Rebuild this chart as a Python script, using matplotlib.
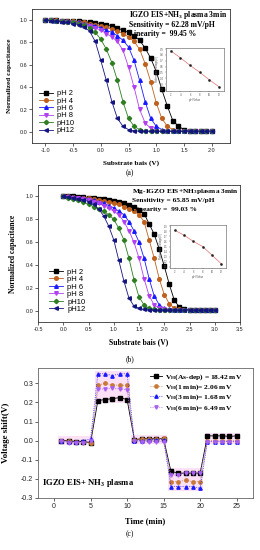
import numpy as np
import matplotlib
matplotlib.use("Agg")
import matplotlib.pyplot as plt

# ---------------- data ----------------
bias_a = np.round(np.arange(-1.0, 2.001, 0.1), 2)
bias_b = np.round(np.arange(0.0, 3.001, 0.1), 2)
ph_labels = ["pH 2", "pH 4", "pH 6", "pH 8", "pH10", "pH12"]

cap_a_ph2 = [1.00, 1.00, 1.00, 0.995, 0.995, 0.99, 0.99, 0.985, 0.98, 0.975, 0.97, 0.96, 0.95, 0.93, 0.91, 0.89,
             0.86, 0.82, 0.75, 0.66, 0.54, 0.38, 0.23, 0.10, 0.05, 0.02, 0.01, 0.005, 0.005, 0.005, 0.005]
cap_a_ph4 = [1.00, 1.00, 1.00, 0.995, 0.99, 0.99, 0.985, 0.98, 0.97, 0.96, 0.95, 0.935, 0.92, 0.90, 0.88, 0.85,
             0.81, 0.74, 0.61, 0.45, 0.26, 0.12, 0.05, 0.02, 0.01, 0.005, 0.005, 0.005, 0.005, 0.005, 0.005]
cap_a_ph6 = [1.00, 1.00, 0.995, 0.99, 0.99, 0.985, 0.98, 0.97, 0.96, 0.95, 0.93, 0.91, 0.89, 0.86, 0.82, 0.76,
             0.64, 0.46, 0.27, 0.12, 0.05, 0.02, 0.01, 0.005, 0.005, 0.005, 0.005, 0.005, 0.005, 0.005, 0.005]
cap_a_ph8 = [1.00, 1.00, 0.995, 0.99, 0.985, 0.98, 0.97, 0.96, 0.95, 0.93, 0.91, 0.88, 0.85, 0.81, 0.73, 0.58,
             0.40, 0.20, 0.08, 0.03, 0.01, 0.005, 0.005, 0.005, 0.005, 0.005, 0.005, 0.005, 0.005, 0.005, 0.005]
cap_a_ph10 = [1.00, 1.00, 0.995, 0.99, 0.985, 0.98, 0.97, 0.955, 0.93, 0.89, 0.83, 0.74, 0.62, 0.46, 0.27, 0.12,
              0.05, 0.02, 0.01, 0.005, 0.005, 0.005, 0.005, 0.005, 0.005, 0.005, 0.005, 0.005, 0.005, 0.005, 0.005]
cap_a_ph12 = [1.00, 0.995, 0.99, 0.985, 0.98, 0.97, 0.96, 0.94, 0.90, 0.81, 0.64, 0.46, 0.27, 0.12, 0.05, 0.02,
              0.01, 0.005, 0.005, 0.005, 0.005, 0.005, 0.005, 0.005, 0.005, 0.005, 0.005, 0.005, 0.005, 0.005, 0.005]

cap_b_ph2 = [1.00, 1.00, 1.00, 0.995, 0.995, 0.99, 0.985, 0.98, 0.975, 0.97, 0.96, 0.95, 0.94, 0.925, 0.91, 0.88,
             0.85, 0.76, 0.67, 0.54, 0.39, 0.23, 0.09, 0.03, 0.01, 0.005, 0.005, 0.005, 0.005, 0.005, 0.005]
cap_b_ph4 = [1.00, 1.00, 0.995, 0.99, 0.99, 0.985, 0.98, 0.97, 0.96, 0.95, 0.94, 0.93, 0.91, 0.89, 0.87, 0.84,
             0.78, 0.62, 0.46, 0.28, 0.14, 0.06, 0.02, 0.01, 0.005, 0.005, 0.005, 0.005, 0.005, 0.005, 0.005]
cap_b_ph6 = [1.00, 1.00, 0.995, 0.99, 0.985, 0.975, 0.965, 0.95, 0.94, 0.92, 0.90, 0.87, 0.84, 0.78, 0.70, 0.60,
             0.46, 0.28, 0.13, 0.05, 0.02, 0.01, 0.005, 0.005, 0.005, 0.005, 0.005, 0.005, 0.005, 0.005, 0.005]
cap_b_ph8 = [1.00, 0.995, 0.99, 0.985, 0.975, 0.965, 0.955, 0.94, 0.92, 0.90, 0.87, 0.84, 0.78, 0.70, 0.60, 0.46,
             0.28, 0.13, 0.05, 0.02, 0.01, 0.005, 0.005, 0.005, 0.005, 0.005, 0.005, 0.005, 0.005, 0.005, 0.005]
cap_b_ph10 = [1.00, 0.99, 0.98, 0.965, 0.95, 0.93, 0.91, 0.89, 0.87, 0.84, 0.80, 0.72, 0.62, 0.46, 0.27, 0.12,
              0.05, 0.02, 0.01, 0.005, 0.005, 0.005, 0.005, 0.005, 0.005, 0.005, 0.005, 0.005, 0.005, 0.005, 0.005]
cap_b_ph12 = [1.00, 0.995, 0.99, 0.98, 0.97, 0.955, 0.93, 0.89, 0.83, 0.74, 0.62, 0.44, 0.26, 0.11, 0.04, 0.02,
              0.01, 0.005, 0.005, 0.005, 0.005, 0.005, 0.005, 0.005, 0.005, 0.005, 0.005, 0.005, 0.005, 0.005, 0.005]

inset_ph = [2, 4, 6, 8, 10, 12]
inset_a_vref = [0.87, 0.75, 0.62, 0.50, 0.37, 0.25]
inset_b_vref = [1.82, 1.72, 1.60, 1.50, 1.33, 1.16]

time_min = list(range(1, 26))
shift_asdep = [0.0, 0.0, -0.005, -0.005, -0.01, 0.21, 0.215, 0.22, 0.225, 0.215, 0.005, 0.01, 0.01, 0.01, 0.01,
               -0.16, -0.17, -0.17, -0.17, -0.17, 0.025, 0.025, 0.025, 0.022, 0.025]
shift_1min = [0.0, 0.0, -0.005, -0.005, -0.01, 0.29, 0.30, 0.29, 0.29, 0.29, 0.005, 0.01, 0.01, 0.01, 0.012,
              -0.215, -0.215, -0.205, -0.215, -0.215, 0.0, 0.0, 0.0, 0.0, 0.0]
shift_3min = [0.0, -0.005, -0.005, 0.0, 0.01, 0.35, 0.35, 0.34, 0.35, 0.35, 0.0, 0.0, 0.005, 0.005, 0.005,
              -0.24, -0.24, -0.24, -0.24, -0.25, -0.005, -0.005, -0.005, -0.005, -0.005]
shift_6min = [0.0, -0.01, -0.01, -0.01, 0.0, 0.27, 0.27, 0.275, 0.27, 0.265, 0.0, -0.005, -0.005, -0.005, -0.005,
              -0.18, -0.18, -0.17, -0.17, -0.17, -0.005, -0.005, -0.005, -0.005, -0.005]
shift_labels = [r"V$_{\mathregular{H}}$(As-dep) = 18.42 mV", r"V$_{\mathregular{H}}$(1 min)= 2.06 mV",
                r"V$_{\mathregular{H}}$(3 min)= 1.68 mV", r"V$_{\mathregular{H}}$(6 min)= 6.49 mV"]

# ---------------- style ----------------
SERIF = ["Liberation Serif", "DejaVu Serif"]
SANS = ["Liberation Sans", "DejaVu Sans"]
plt.rcParams["font.family"] = SANS
plt.rcParams["mathtext.fontset"] = "custom"
plt.rcParams["mathtext.rm"] = "Liberation Serif:bold"
plt.rcParams["mathtext.it"] = "Liberation Serif:bold"
plt.rcParams["mathtext.bf"] = "Liberation Serif:bold"

ph_colors = ["#000000", "#c0601c", "#1a1aff", "#b040f0", "#2e7d20", "#141480"]
ph_markers = ["s", "o", "^", "v", "D", "<"]
SPINE = "#333333"

fig = plt.figure(figsize=(2.6, 5.5), dpi=100)
W, H = 260.0, 550.0


def rect_px(x0, y0, x1, y1):
    return [x0 / W, 1 - y1 / H, (x1 - x0) / W, (y1 - y0) / H]


def style_axes(ax, fs):
    for s in ax.spines.values():
        s.set_linewidth(0.6)
        s.set_color(SPINE)
    ax.tick_params(direction="out", length=2, width=0.5, labelsize=fs, pad=1.5, colors="#222222")


def curve_panel(rect, xs, series, xlim, xticks, title_lines, title_fs, lab_fs, leg_anchor, leg_fs,
                inset_rect, inset_y, inset_ylim, inset_yticks):
    ax = fig.add_axes(rect)
    for vals, col, mk, lab in zip(series, ph_colors, ph_markers, ph_labels):
        ax.plot(xs, vals, color=col, lw=0.6, marker=mk, ms=2.6 if mk != "D" else 2.2,
                mec=col, mfc=col, label=lab)
    ax.set_xlim(*xlim)
    ax.set_ylim(-0.1, 1.1)
    ax.set_xticks(xticks)
    ax.set_yticks([0.0, 0.2, 0.4, 0.6, 0.8, 1.0])
    ax.xaxis.set_major_formatter(plt.FormatStrFormatter("%.1f"))
    ax.yaxis.set_major_formatter(plt.FormatStrFormatter("%.1f"))
    style_axes(ax, 4.0)
    ax.set_ylabel("Normalized capacitance", family=SERIF, weight="bold", fontsize=lab_fs)
    ax.set_xlabel("Substrate bais (V)", family=SERIF, weight="bold", fontsize=lab_fs)
    for (tx, ty, txt) in title_lines:
        ax.text(tx, ty, txt, transform=ax.transAxes, family=SERIF, weight="bold",
                fontsize=title_fs, ha="left", va="center")
    ax.legend(loc="lower left", bbox_to_anchor=leg_anchor, frameon=False, fontsize=leg_fs,
              handlelength=1.9, handletextpad=0.5, labelspacing=0.02, borderpad=0.1,
              borderaxespad=0.0)
    axi = fig.add_axes(inset_rect)
    axi.plot(inset_ph, inset_y, color="#e07070", lw=0.5)
    axi.plot(inset_ph, inset_y, ls="none", marker="s", ms=0.8, color="#222222")
    axi.set_xlim(1, 13)
    axi.set_ylim(*inset_ylim)
    axi.set_xticks([2, 4, 6, 8, 10, 12])
    axi.set_yticks(inset_yticks)
    for s in axi.spines.values():
        s.set_linewidth(0.4)
        s.set_color("#555555")
    axi.tick_params(direction="out", length=1, width=0.3, labelsize=1.9, pad=0.6, colors="#555555")
    axi.set_xlabel("pH Value", fontsize=2.0, labelpad=0.5, color="#555555")
    axi.set_ylabel("Reference voltage(V)", fontsize=2.0, labelpad=0.5, color="#555555")
    return ax


# ---------------- panel (a) ----------------
ax_a = curve_panel(rect_px(32, 9, 230, 143), bias_a,
                   [cap_a_ph2, cap_a_ph4, cap_a_ph6, cap_a_ph8, cap_a_ph10, cap_a_ph12],
                   (-1.24, 2.33), [-1.0, -0.5, 0.0, 0.5, 1.0, 1.5, 2.0],
                   [(0.49, 0.957, r"IGZO EIS+NH$_3$ plasma 3min"),
                    (0.49, 0.882, "Sensitivity = 62.28 mV/pH"),
                    (0.49, 0.81, "Linearity =  99.45 %")],
                   5.5, 5.2, (0.03, 0.06), 5.4,
                   rect_px(166, 48, 224, 91), inset_a_vref, (0.18, 0.92),
                   [0.2, 0.3, 0.4, 0.5, 0.6, 0.7, 0.8, 0.9])
ax_a.xaxis.set_label_coords(0.5, -0.125)
ax_a.yaxis.set_label_coords(-0.1, 0.5)

# ---------------- panel (b) ----------------
ax_b = curve_panel(rect_px(38, 185, 240, 322), bias_b,
                   [cap_b_ph2, cap_b_ph4, cap_b_ph6, cap_b_ph8, cap_b_ph10, cap_b_ph12],
                   (-0.5, 3.5), [-0.5, 0.0, 0.5, 1.0, 1.5, 2.0, 2.5, 3.0, 3.5],
                   [(0.465, 0.95, r"Mg-IGZO EIS+NH$_3$plasma 3min"),
                    (0.465, 0.885, "Sensitivity = 65.85 mV/pH"),
                    (0.465, 0.822, "Linearity =  99.03 %")],
                   5.3, 5.5, (0.05, 0.06), 5.5,
                   rect_px(170, 225, 226, 268), inset_b_vref, (1.08, 1.92),
                   [1.1, 1.2, 1.3, 1.4, 1.5, 1.6, 1.7, 1.8, 1.9])
ax_b.xaxis.set_label_coords(0.5, -0.118)
ax_b.yaxis.set_label_coords(-0.105, 0.5)

# ---------------- panel (c) ----------------
ax_c = fig.add_axes(rect_px(38, 368, 252.7, 498))
shift_series = [shift_asdep, shift_1min, shift_3min, shift_6min]
t_arr = np.array(time_min)
all_s = np.array(shift_series)
for g in range(5):
    idx = slice(g * 5, g * 5 + 5)
    lo = all_s[:, idx].min() - 0.015
    hi = all_s[:, idx].max() + 0.015
    ax_c.fill_between([t_arr[idx][0] - 0.4, t_arr[idx][-1] + 0.4], lo, hi, color="#fbe0f6", lw=0, zorder=0)

c_cols = ["#000000", "#c87838", "#1a1aff", "#a860f0"]
c_marks = ["s", "o", "^", "v"]
c_ls = ["-", ":", ":", ":"]
for vals, col, mk, ls, lab in zip(shift_series, c_cols, c_marks, c_ls, shift_labels):
    ax_c.plot(time_min, vals, color=col, lw=0.6, ls=ls, marker=mk, ms=2.4, mec=col, mfc=col, label=lab)
ax_c.set_xlim(-2.2, 27.2)
ax_c.set_ylim(-0.3, 0.38)
ax_c.set_xticks([0, 5, 10, 15, 20, 25])
ax_c.set_yticks([-0.3, -0.2, -0.1, 0.0, 0.1, 0.2, 0.3])
ax_c.yaxis.set_major_formatter(plt.FormatStrFormatter("%.1f"))
style_axes(ax_c, 5.0)
for s in ax_c.spines.values():
    s.set_color("#666666")
ax_c.set_xlabel("Time (min)", family=SERIF, weight="bold", fontsize=6.0)
ax_c.set_ylabel("Voltage shift(V)", family=SERIF, weight="bold", fontsize=6.5)
ax_c.xaxis.set_label_coords(0.5, -0.145)
ax_c.yaxis.set_label_coords(-0.13, 0.5)
ax_c.legend(loc="upper left", bbox_to_anchor=(0.52, 0.965), frameon=False,
            prop={"family": SERIF, "weight": "bold", "size": 5.4},
            handlelength=1.6, handletextpad=0.4, labelspacing=0.05, borderpad=0.0, borderaxespad=0.0)
ax_c.text(0.02, 0.113, r"IGZO EIS+ NH$_3$ plasma", transform=ax_c.transAxes, family=SERIF,
          weight="bold", fontsize=6.2, ha="left", va="center")

# ---------------- captions ----------------
fig.text(130 / W, 1 - 173 / H, "(a)", family=SERIF, fontsize=5.5, ha="center", va="center")
fig.text(130 / W, 1 - 359 / H, "(b)", family=SERIF, fontsize=5.5, ha="center", va="center")
fig.text(130 / W, 1 - 534 / H, "(c)", family=SERIF, fontsize=5.5, ha="center", va="center")

fig.savefig("out.png", dpi=100)
